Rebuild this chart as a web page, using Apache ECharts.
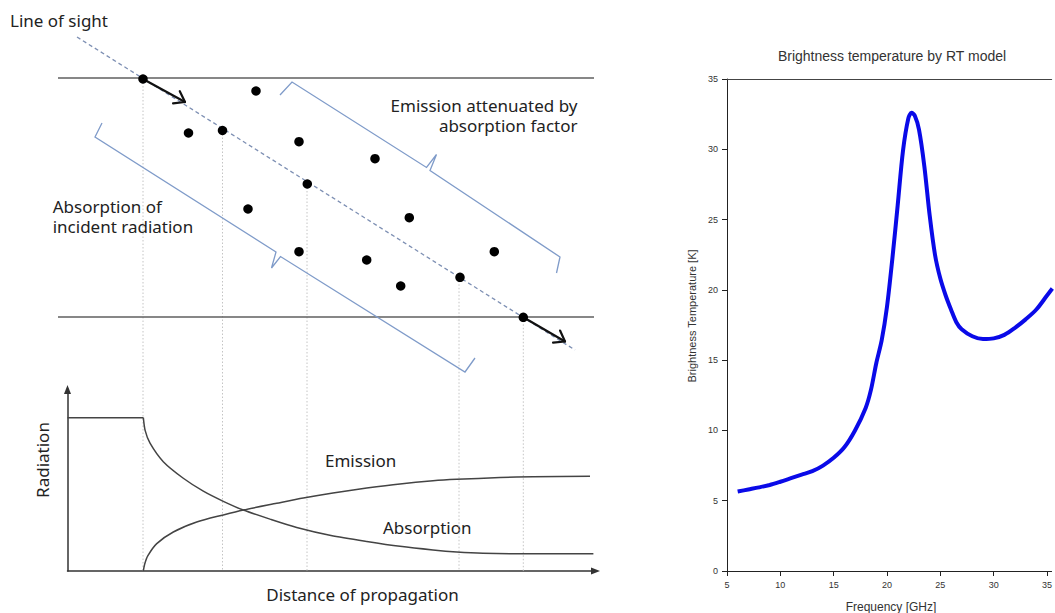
<!DOCTYPE html>
<html><head><meta charset="utf-8">
<script src="https://cdn.jsdelivr.net/npm/echarts@6/dist/echarts.min.js"></script>
<style>html,body{margin:0;padding:0;background:#fff}#c{width:1055px;height:613px}</style>
</head><body><div id="c"></div>
<script>
// ---------- Right panel: brightness temperature by RT model ----------
const freqGHz = [6,7,8,9,10,11,12,13,14,15,16,17,18,18.5,19,19.5,20,20.5,21,21.5,22,22.3,22.6,23,23.5,24,24.5,25,25.5,26,26.5,27,28,29,30,31,32,33,34,35,35.5];
const brightnessK = [5.65,5.8,5.95,6.12,6.35,6.6,6.85,7.1,7.5,8.05,8.8,10.0,11.6,12.9,14.8,16.4,18.8,22.2,26.0,29.9,32.2,32.6,32.4,31.4,28.8,25.3,22.5,20.8,19.6,18.6,17.7,17.2,16.7,16.5,16.55,16.8,17.3,17.9,18.6,19.6,20.1];
const freqTicks = [5,10,15,20,25,30,35];
const freqVisibleMax = 35.43;   // the reference crops the frequency axis at the right edge
const tempTicks = [0,5,10,15,20,25,30,35];

// ---------- Left panel: schematic (diagram units) ----------
const layerBoundariesY = [78, 317];
const layerExtentX = [58, 594];
const lineOfSight = [[77,37],[575,350]];
const particles = [[143,79],[256,91],[188.5,133],[222.5,130.5],[299,141.7],[375,158.7],[307.3,184],[248,209],[409.3,217.7],[299,251.7],[366.7,260],[400.7,286],[460,277.3],[494.3,251.7],[523.3,317.3]];
const guidePoints = [[143,79],[222.5,130.5],[307,184],[459,277.3],[523.3,317.3]];
const guideBottomY = 571;
const entryArrow = [[143,79],[185,102]];
const exitArrow = [[523.3,317.3],[565,341.5]];
const emissionBrace = [[280,95],[292,82],[426.5,167.5],[436.5,154.5],[430,170.5],[560,257],[556.5,273]];
const absorptionBrace = [[102,123],[95,137],[276,252],[271.5,268],[280.5,256.5],[465,372],[475,358]];
const transitionArrowAt = [648.3, 315.9];

// Lower-left plot: radiation vs distance of propagation (arbitrary units 0-100)
const incidentFlat = [[0,84.5],[14.36,84.5]];
const absorptionCurve = [[14.36,84.5],[14.7,77.5],[15.63,70.4],[18.14,60.2],[21.93,51.1],[25.72,44.0],[29.51,38.4],[33.3,33.6],[38.35,28.6],[43.41,24.0],[49.9,19.6],[56.67,16.3],[62.97,13.6],[69.22,11.6],[73.71,10.5],[78.69,9.8],[88.16,9.5],[99.6,9.5]];
const emissionCurve = [[14.36,0],[14.6,3.6],[15.2,8.3],[16.9,15.1],[20.04,21.5],[24.47,27.0],[29.51,30.9],[33.3,33.6],[39.62,37.3],[44.66,40.2],[50.28,43.0],[56.67,45.7],[62.97,48.0],[69.22,49.7],[73.71,50.5],[81.91,51.5],[88.16,51.95],[98.96,52.2]];

function arrowHead(seg, len, ang) {
  const [a, b] = seg;
  const dx = a[0]-b[0], dy = a[1]-b[1];
  const L = Math.hypot(dx, dy), ux = dx/L, uy = dy/L;
  const c = Math.cos(ang), s = Math.sin(ang);
  return [[b[0]+len*(ux*c+uy*s), b[1]+len*(-ux*s+uy*c)], b, [b[0]+len*(ux*c-uy*s), b[1]+len*(ux*s+uy*c)]];
}

const chart = echarts.init(document.getElementById('c'), null, {renderer: 'svg'});
const LEFT_FONT = '"Noto Sans", "Open Sans", sans-serif';
const RIGHT_FONT = '"Liberation Sans", Arial, sans-serif';
function txt(text, x, y, size, align, family, fill, rot, lh) {
  return {type: 'text', x: x, y: y, rotation: rot || 0, silent: true,
    style: {text: text, fontSize: size, fontFamily: family, fill: fill, align: align, verticalAlign: 'middle', lineHeight: lh || size}};
}
const onTick = v => (Math.abs(v/5 - Math.round(v/5)) < 1e-6 ? String(Math.round(v)) : '');

const option = {
  animation: false,
  backgroundColor: '#fff',
  grid: [
    {left: 727, top: 79, right: 0, bottom: 42, show: false},
    {left: 0, top: 0, width: 620, height: 613, show: false},
    {left: 67.5, top: 389.5, width: 528, height: 181.5, show: false}
  ],
  xAxis: [
    {gridIndex: 0, type: 'value', min: freqTicks[0], max: freqVisibleMax, interval: 5,
      axisLine: {show: true, onZero: false, lineStyle: {color: '#222', width: 1}},
      axisTick: {show: true, inside: false, length: 5, lineStyle: {color: '#222'}},
      axisLabel: {margin: 9, fontSize: 9, fontFamily: RIGHT_FONT, color: '#333', formatter: onTick, showMaxLabel: false},
      splitLine: {show: false}},
    {gridIndex: 1, type: 'value', min: 0, max: 620, show: false},
    {gridIndex: 2, type: 'value', min: 0, max: 100,
      axisLine: {show: true, symbol: ['none','triangle'], symbolSize: [7,9], lineStyle: {color: '#333', width: 1.5}},
      axisTick: {show: false}, axisLabel: {show: false}, splitLine: {show: false}},
    {gridIndex: 0, type: 'value', position: 'top', min: freqTicks[0], max: freqVisibleMax,
      axisLine: {show: true, onZero: false, lineStyle: {color: '#444', width: 1.2}},
      axisTick: {show: false}, axisLabel: {show: false}, splitLine: {show: false}}
  ],
  yAxis: [
    {gridIndex: 0, type: 'value', min: tempTicks[0], max: tempTicks[tempTicks.length-1], interval: 5,
      axisLine: {show: true, onZero: false, lineStyle: {color: '#222', width: 1}},
      axisTick: {show: true, inside: false, length: 5, lineStyle: {color: '#222'}},
      axisLabel: {margin: 9, fontSize: 9, fontFamily: RIGHT_FONT, color: '#333'},
      splitLine: {show: false}},
    {gridIndex: 1, type: 'value', min: 0, max: 613, inverse: true, show: false},
    {gridIndex: 2, type: 'value', min: 0, max: 100,
      axisLine: {show: true, symbol: ['none','triangle'], symbolSize: [7,9], lineStyle: {color: '#333', width: 1.5}},
      axisTick: {show: false}, axisLabel: {show: false}, splitLine: {show: false}}
  ],
  series: [
    {name: 'Brightness temperature', type: 'line', xAxisIndex: 0, yAxisIndex: 0,
      data: freqGHz.map((f, i) => [f, brightnessK[i]]), smooth: 0.3, showSymbol: false,
      lineStyle: {color: '#0a0ae8', width: 4}, z: 5},
    // schematic guides
    {type: 'lines', coordinateSystem: 'cartesian2d', xAxisIndex: 1, yAxisIndex: 1, polyline: true, silent: true,
      lineStyle: {color: '#c4c4c4', width: 1, type: [1.5,2], opacity: 1},
      data: guidePoints.map(p => ({coords: [p, [p[0], guideBottomY]]})), z: 1},
    {type: 'lines', coordinateSystem: 'cartesian2d', xAxisIndex: 1, yAxisIndex: 1, polyline: true, silent: true,
      lineStyle: {color: '#5f5f5f', width: 1.5, opacity: 1},
      data: layerBoundariesY.map(y => ({coords: [[layerExtentX[0], y], [layerExtentX[1], y]]})), z: 2},
    {type: 'lines', coordinateSystem: 'cartesian2d', xAxisIndex: 1, yAxisIndex: 1, polyline: true, silent: true,
      lineStyle: {color: '#7d8fb3', width: 1.3, type: [4,3], opacity: 1},
      data: [{coords: lineOfSight}], z: 2},
    {type: 'lines', coordinateSystem: 'cartesian2d', xAxisIndex: 1, yAxisIndex: 1, polyline: true, silent: true,
      lineStyle: {color: '#7f9bc9', width: 1.3, opacity: 1},
      data: [{coords: emissionBrace}, {coords: absorptionBrace}], z: 2},
    {type: 'lines', coordinateSystem: 'cartesian2d', xAxisIndex: 1, yAxisIndex: 1, polyline: true, silent: true,
      lineStyle: {color: '#111', width: 2.2, opacity: 1, cap: 'round', join: 'round'},
      data: [{coords: entryArrow}, {coords: arrowHead(entryArrow, 12, 0.62)}, {coords: exitArrow}, {coords: arrowHead(exitArrow, 12, 0.62)}], z: 3},
    {type: 'scatter', xAxisIndex: 1, yAxisIndex: 1, silent: true, symbol: 'circle', symbolSize: 9.5,
      itemStyle: {color: '#000', opacity: 1}, data: particles, z: 4},
    {type: 'scatter', xAxisIndex: 1, yAxisIndex: 1, silent: true,
      symbol: 'path://M0,10.6 L18.3,10.6 L18.3,0 L36.7,19.3 L18.3,38.6 L18.3,27.3 L0,27.3 Z',
      symbolSize: [35, 36.5], itemStyle: {color: '#fff', borderColor: '#111', borderWidth: 2, opacity: 1},
      data: [transitionArrowAt], z: 4},
    // radiation plot
    {type: 'line', xAxisIndex: 2, yAxisIndex: 2, data: incidentFlat, showSymbol: false, silent: true,
      lineStyle: {color: '#444', width: 1.5}},
    {type: 'line', xAxisIndex: 2, yAxisIndex: 2, data: absorptionCurve, showSymbol: false, silent: true,
      smooth: 0.25, lineStyle: {color: '#444', width: 1.5}},
    {type: 'line', xAxisIndex: 2, yAxisIndex: 2, data: emissionCurve, showSymbol: false, silent: true,
      smooth: 0.25, lineStyle: {color: '#444', width: 1.5}}
  ],
  graphic: [
    txt('Brightness temperature by RT model', 892, 55.9, 14, 'center', RIGHT_FONT, '#333'),
    txt('Frequency [GHz]', 891, 606.5, 12, 'center', RIGHT_FONT, '#333'),
    txt('Brightness Temperature [K]', 691.5, 316, 11, 'center', RIGHT_FONT, '#333', Math.PI/2),
    txt('Line of sight', 10, 20.1, 17, 'left', LEFT_FONT, '#222'),
    txt('Emission attenuated by\nabsorption factor', 577.5, 115.1, 17, 'right', LEFT_FONT, '#222', 0, 20),
    txt('Absorption of\nincident radiation', 52.7, 216.7, 17, 'left', LEFT_FONT, '#222', 0, 20),
    txt('Emission', 325, 460.7, 17, 'left', LEFT_FONT, '#222'),
    txt('Absorption', 383, 527.4, 17, 'left', LEFT_FONT, '#222'),
    txt('Distance of propagation', 362.5, 594.4, 17, 'center', LEFT_FONT, '#222'),
    txt('Radiation', 42.7, 460, 17, 'center', LEFT_FONT, '#222', Math.PI/2)
  ]
};
chart.setOption(option);
</script>
</body></html>
